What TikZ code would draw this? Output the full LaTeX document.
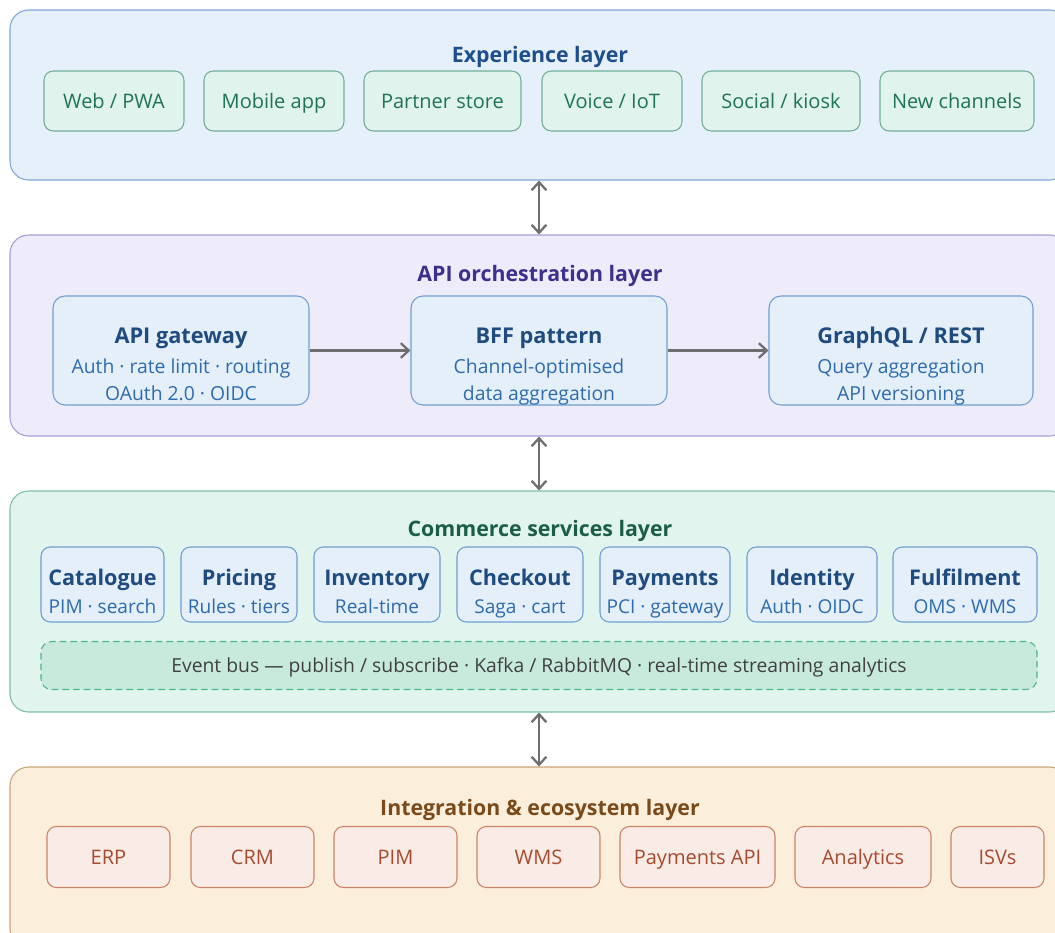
\documentclass[tikz,border=0pt]{standalone}
\usepackage{fontspec}
\setmainfont{Open Sans}
\usetikzlibrary{arrows.meta,calc}
\definecolor{expfill}{HTML}{E6F0FA}
\definecolor{expdraw}{HTML}{7FA6D6}
\definecolor{exptext}{HTML}{1F4E8C}
\definecolor{chfill}{HTML}{E0F3EC}
\definecolor{chdraw}{HTML}{72AE98}
\definecolor{chtext}{HTML}{1E7358}
\definecolor{apifill}{HTML}{EEEBFB}
\definecolor{apidraw}{HTML}{A99BD9}
\definecolor{apitext}{HTML}{3F2E8C}
\definecolor{bxfill}{HTML}{E4EFFA}
\definecolor{bxdraw}{HTML}{6F9ED2}
\definecolor{bxtitle}{HTML}{1F4B7F}
\definecolor{bxsub}{HTML}{2E6BAE}
\definecolor{comfill}{HTML}{E2F4EE}
\definecolor{comdraw}{HTML}{7DBFA5}
\definecolor{comtext}{HTML}{1B5E45}
\definecolor{busfill}{HTML}{C8EADD}
\definecolor{busdraw}{HTML}{4DB58A}
\definecolor{bustext}{HTML}{404040}
\definecolor{intfill}{HTML}{FBEEDB}
\definecolor{intdraw}{HTML}{C9A478}
\definecolor{inttext}{HTML}{7A4A1A}
\definecolor{ecofill}{HTML}{F9EBE5}
\definecolor{ecodraw}{HTML}{C9836A}
\definecolor{ecotext}{HTML}{A84A2E}
\definecolor{arr}{HTML}{6E6E6E}
\tikzset{
  px/.style 2 args={minimum width=#1*0.75pt, minimum height=#2*0.75pt, inner sep=0pt},
  capc/.style={text height=#1, text depth=0pt},
  layer/.style={rounded corners=14pt, line width=0.8pt},
  ltitle/.style={font=\fontsize{16}{19}\selectfont\bfseries, inner sep=0pt, capc=11.4pt},
  chan/.style={draw=chdraw, fill=chfill, text=chtext, rounded corners=7pt, line width=0.8pt, font=\fontsize{15}{18}\selectfont, capc=10.7pt},
  bigbox/.style={draw=bxdraw, fill=bxfill, rounded corners=9pt, line width=0.8pt},
  svc/.style={draw=bxdraw, fill=bxfill, rounded corners=7pt, line width=0.8pt},
  btitle/.style={anchor=base, inner sep=0pt, text=bxtitle, font=\fontsize{16.3}{19}\selectfont\bfseries},
  bsub/.style={anchor=base, inner sep=0pt, text=bxsub, font=\fontsize{14.5}{17}\selectfont},
  stitle/.style={anchor=base, inner sep=0pt, text=bxtitle, font=\fontsize{16.2}{19}\selectfont\bfseries},
  ssub/.style={anchor=base, inner sep=0pt, text=bxsub, font=\fontsize{14.3}{17}\selectfont},
  eco/.style={draw=ecodraw, fill=ecofill, text=ecotext, rounded corners=7pt, line width=0.8pt, font=\fontsize{15}{18}\selectfont, capc=10.7pt},
  dbl/.style={draw=arr, line width=1.7pt, {Straight Barb[length=6pt,width=11pt]}-{Straight Barb[length=6pt,width=11pt]}},
  one/.style={draw=arr, line width=1.7pt, -{Straight Barb[length=6pt,width=11pt]}},
}
\begin{document}
\begin{tikzpicture}[x=0.75pt,y=-0.75pt]
\useasboundingbox (0,0) rectangle (1055,932);
% layers
\node[layer, draw=expdraw, fill=expfill, px={1058}{170}] (exp) at (539,95) {};
\node[layer, draw=apidraw, fill=apifill, px={1058}{201}] (api) at (539,335.5) {};
\node[layer, draw=comdraw, fill=comfill, px={1058}{221}] (com) at (539,601.5) {};
\node[layer, draw=intdraw, fill=intfill, px={1058}{180}] (int) at (539,857) {};
% titles
\node[ltitle, text=exptext] (expt) at (540,55) {Experience layer};
\node[ltitle, text=apitext] (apit) at (540,274) {API orchestration layer};
\node[ltitle, text=comtext] (comt) at (540,529) {Commerce services layer};
\node[ltitle, text=inttext] (intt) at (540,808.3) {Integration \& ecosystem layer};
% channels
\node[chan, px={140}{60}] (web) at (114,101) {Web / PWA};
\node[chan, px={140}{60}] (mob) at (274,101) {Mobile app};
\node[chan, px={157}{60}] (par) at (442.5,101) {Partner store};
\node[chan, px={140}{60}] (voi) at (612,101) {Voice / IoT};
\node[chan, px={158}{60}] (soc) at (781,101) {Social / kiosk};
\node[chan, px={154}{60}] (new) at (957,101) {New channels};
% API boxes
\node[bigbox, px={256}{109}] (gw) at (181,350.5) {};
\node[bigbox, px={256}{109}] (bff) at (539,350.5) {};
\node[bigbox, px={264}{109}] (gql) at (901,350.5) {};
\node[btitle] (gw1) at (181,343.3) {API gateway};
\node[bsub] (gw2) at (181,373.3) {Auth · rate limit · routing};
\node[bsub] (gw3) at (181,400.7) {OAuth 2.0 · OIDC};
\node[btitle] (bff1) at (539,343.3) {BFF pattern};
\node[bsub] (bff2) at (539,373.3) {Channel-optimised};
\node[bsub] (bff3) at (539,400.7) {data aggregation};
\node[btitle] (gql1) at (901,343.3) {GraphQL / REST};
\node[bsub] (gql2) at (901,373.3) {Query aggregation};
\node[bsub] (gql3) at (901,400.7) {API versioning};
\draw[one] (gw) -- (bff);
\draw[one] (bff) -- (gql);
% services
\node[svc, px={123}{75}] (cat) at (102.5,584.5) {};
\node[svc, px={116}{75}] (pri) at (239,584.5) {};
\node[svc, px={126}{75}] (inv) at (377,584.5) {};
\node[svc, px={126}{75}] (chk) at (520,584.5) {};
\node[svc, px={130}{75}] (pay) at (665,584.5) {};
\node[svc, px={130}{75}] (idn) at (812,584.5) {};
\node[svc, px={144}{75}] (ful) at (965,584.5) {};
\foreach \n/\t/\s in {cat/Catalogue/PIM · search, pri/Pricing/Rules · tiers, inv/Inventory/Real-time, chk/Checkout/Saga · cart, pay/Payments/PCI · gateway, idn/Identity/Auth · OIDC, ful/Fulfilment/OMS · WMS}{
  \node[stitle] (\n-t) at (\n.center |- 0,585.7) {\t};
  \node[ssub] (\n-s) at (\n.center |- 0,613.3) {\s};
}
\node[draw=busdraw, fill=busfill, text=bustext, dashed, dash pattern=on 5pt off 3pt, rounded corners=8pt, line width=0.8pt, px={996}{48}, font=\fontsize{14.5}{17}\selectfont, capc=10.35pt] (bus) at (539,665.5) {Event bus — publish / subscribe · Kafka / RabbitMQ · real-time streaming analytics};
% ecosystem
\node[eco, px={123}{61}] (erp) at (108.5,857) {ERP};
\node[eco, px={123}{61}] (crm) at (252.5,857) {CRM};
\node[eco, px={123}{61}] (pim) at (395.5,857) {PIM};
\node[eco, px={123}{61}] (wms) at (538.5,857) {WMS};
\node[eco, px={155}{61}] (papi) at (697.5,857) {Payments API};
\node[eco, px={136}{61}] (ana) at (863,857) {Analytics};
\node[eco, px={93}{61}] (isv) at (997.5,857) {ISVs};
% inter-layer arrows
\draw[dbl] (exp.south) -- (api.north);
\draw[dbl] (api.south) -- (com.north);
\draw[dbl] (com.south) -- (int.north);
\end{tikzpicture}
\end{document}
